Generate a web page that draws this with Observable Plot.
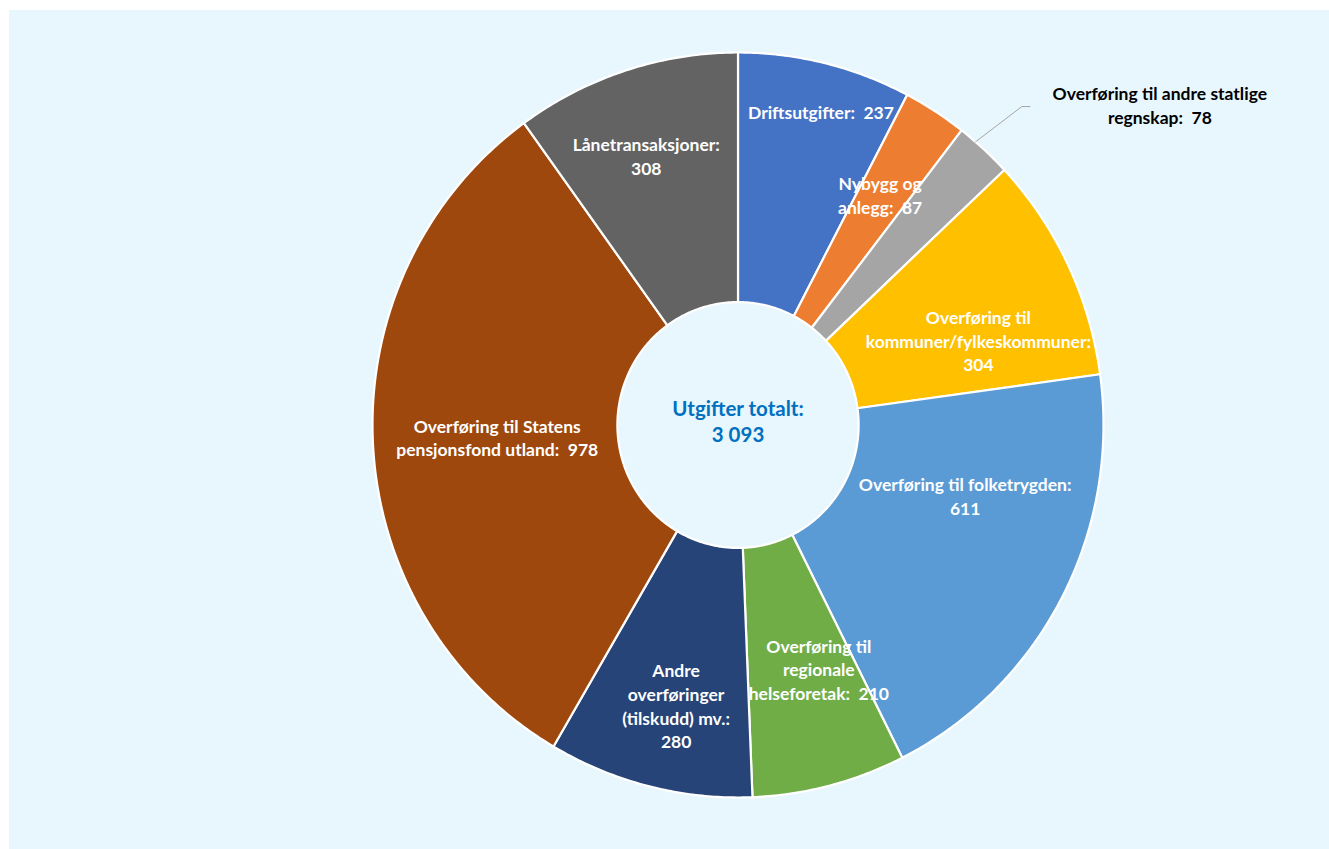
<!DOCTYPE html>
<html>
<head>
<meta charset="utf-8">
<script src="https://cdn.jsdelivr.net/npm/d3@7"></script>
<script src="https://cdn.jsdelivr.net/npm/@observablehq/plot@0.6"></script>
<style>
  html, body { margin: 0; padding: 0; background: #ffffff; }
  #panel { position: absolute; left: 9px; top: 10px; width: 1320px; height: 839px; background: #E8F6FE; overflow: hidden; }
  #panel svg { display: block; }
</style>
</head>
<body>
<div id="panel"></div>
<script>
// ---- data ----
const categories = [
  "Driftsutgifter",
  "Nybygg og anlegg",
  "Overføring til andre statlige regnskap",
  "Overføring til kommuner/fylkeskommuner",
  "Overføring til folketrygden",
  "Overføring til regionale helseforetak",
  "Andre overføringer (tilskudd) mv.",
  "Overføring til Statens pensjonsfond utland",
  "Lånetransaksjoner"
];
const values = [237, 87, 78, 304, 611, 210, 280, 978, 308];
const colors = ["#4472C4", "#ED7D31", "#A5A5A5", "#FFC000", "#5B9BD5", "#70AD47", "#264478", "#9E480E", "#636363"];
// wrapped label names (line breaks as in the original)
const labelNames = [
  "Driftsutgifter",
  "Nybygg og\nanlegg",
  "Overføring til andre statlige\nregnskap",
  "Overføring til\nkommuner/fylkeskommuner",
  "Overføring til folketrygden",
  "Overføring til\nregionale\nhelseforetak",
  "Andre\noverføringer\n(tilskudd) mv.",
  "Overføring til Statens\npensjonsfond utland",
  "Lånetransaksjoner"
];
const valueOnNewLine = [false, false, false, true, true, false, true, false, true];
const centerTitle = "Utgifter totalt:";

// ---- layout / style (not data) ----
const innerRatio = 0.33;
const labelNudge = [[25, -73], [11, -22], [0, 0], [21, 22], [12, -45], [20, 4], [-3, 40], [2, 0], [-17, -34]];
const outsideIndex = 2;

const nbLocale = d3.formatLocale({decimal: ",", thousands: " ", grouping: [3], currency: ["", " kr"]});
const fmt = nbLocale.format(",");

const rows = categories.map((name, i) => ({name, value: values[i], i}));
const total = d3.sum(values);

const arcs = d3.pie().sort(null).value(d => d.value).startAngle(0).endAngle(2 * Math.PI)(rows);

// polygon vertices for each ring segment (geometry derived from the pie angles)
const step = Math.PI / 360;
const slicePts = [];
for (const a of arcs) {
  const n = Math.max(2, Math.ceil((a.endAngle - a.startAngle) / step));
  const ring = [];
  for (let k = 0; k <= n; k++) {
    const t = a.startAngle + (a.endAngle - a.startAngle) * k / n;
    ring.push([Math.sin(t), Math.cos(t)]);
  }
  for (let k = n; k >= 0; k--) {
    const t = a.startAngle + (a.endAngle - a.startAngle) * k / n;
    ring.push([innerRatio * Math.sin(t), innerRatio * Math.cos(t)]);
  }
  ring.push(ring[0]);
  for (const [x, y] of ring) slicePts.push({name: a.data.name, x, y});
}

const mid = a => (a.startAngle + a.endAngle) / 2;
const rMid = (1 + innerRatio) / 2;
const labelRows = arcs.map((a, i) => {
  const text = labelNames[i] + ":" + (valueOnNewLine[i] ? "\n" : "  ") + fmt(values[i]);
  const r = i === outsideIndex ? 1.155 : rMid;
  return {text, x: r * Math.sin(mid(a)), y: r * Math.cos(mid(a)), i};
});

// leader line for the outside label
const oa = mid(arcs[outsideIndex]);
const la = oa - 0.03;
const leader = [
  {x: 1.0 * Math.sin(la), y: 1.0 * Math.cos(la)},
  {x: 1.155 * Math.sin(oa), y: 1.155 * Math.cos(oa)},
  {x: 1.155 * Math.sin(oa) + 0.022, y: 1.155 * Math.cos(oa)}
];

const marks = [
  Plot.line(slicePts, {x: "x", y: "y", z: "name", fill: "name", stroke: "white", strokeWidth: 2.2, strokeLinejoin: "round"}),
  Plot.line(leader, {x: "x", y: "y", stroke: "#A6A6A6", strokeWidth: 1})
];
labelRows.forEach((d, i) => {
  const outside = i === outsideIndex;
  marks.push(Plot.text([d], {
    x: "x", y: "y", text: "text",
    dx: outside ? 138 : labelNudge[i][0],
    dy: outside ? -2 : labelNudge[i][1],
    fill: outside ? "#000000" : "#ffffff",
    fontSize: 17.5, fontWeight: "bold", lineHeight: 1.35,
    textAnchor: "middle", lineAnchor: "middle"
  }));
});
marks.push(Plot.text([{x: 0, y: 0, text: centerTitle + "\n" + fmt(total)}], {
  x: "x", y: "y", text: "text", dy: -4.5,
  fill: "#0070C0", fontSize: 20.5, fontWeight: "bold", lineHeight: 1.27,
  textAnchor: "middle", lineAnchor: "middle"
}));

const chart = Plot.plot({
  width: 1320,
  height: 839,
  marginLeft: 363,
  marginRight: 226,
  marginTop: 42,
  marginBottom: 52,
  x: {domain: [-1, 1], axis: null},
  y: {domain: [-1, 1], axis: null},
  color: {domain: categories, range: colors},
  style: {background: "transparent", fontFamily: "Lato, 'Open Sans', sans-serif", overflow: "visible"},
  marks
});
document.getElementById("panel").appendChild(chart);
</script>
</body>
</html>
